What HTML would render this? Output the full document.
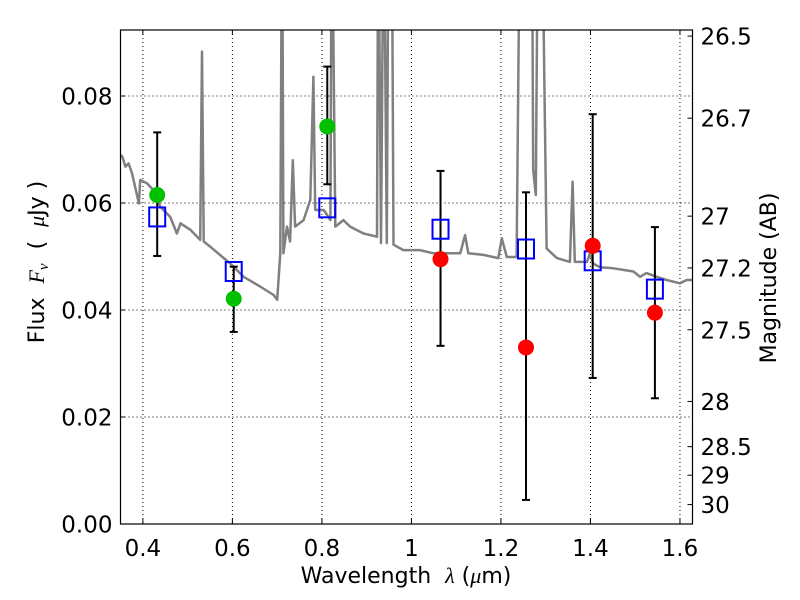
<!DOCTYPE html>
<html><head><meta charset="utf-8"><style>
body{margin:0;background:#fff;}
svg{display:block;font-family:"DejaVu Sans","Liberation Sans",sans-serif;}
text{white-space:pre;}
</style></head><body>
<svg id="chart" width="800" height="600" viewBox="0 0 800 600" xmlns="http://www.w3.org/2000/svg"></svg>
<script>
const xTicks=[0.4,0.6,0.8,1,1.2,1.4,1.6];
const yTicks=[0,0.02,0.04,0.06,0.08];
const yTickLabels=["0.00","0.02","0.04","0.06","0.08"];
const magTicks=[26.5,26.7,27,27.2,27.5,28,28.5,29,30];
const magLabels=["26.5","26.7","27","27.2","27.5","28","28.5","29","30"];
const specWl=[0.35,0.354,0.361,0.368,0.376,0.391,0.394,0.409,0.424,0.439,0.461,0.476,0.484,0.506,0.528,0.532,0.536,0.551,0.595,0.625,0.662,0.692,0.700,0.707,0.711,0.714,0.722,0.729,0.735,0.740,0.759,0.774,0.781,0.785,0.804,0.819,0.822,0.830,0.848,0.863,0.893,0.923,0.926,0.932,0.938,0.945,0.949,0.956,0.960,0.982,0.997,1.019,1.049,1.109,1.120,1.127,1.161,1.194,1.202,1.213,1.235,1.243,1.269,1.272,1.278,1.283,1.291,1.302,1.325,1.354,1.360,1.365,1.392,1.399,1.406,1.421,1.451,1.496,1.511,1.525,1.548,1.570,1.600,1.615,1.628];
const specFlux=[0.0690,0.0687,0.0668,0.0674,0.0655,0.0599,0.0643,0.0637,0.0624,0.0593,0.0574,0.0543,0.0562,0.0550,0.0531,0.0883,0.0528,0.0518,0.0487,0.0462,0.0444,0.0428,0.0419,0.0506,0.12,0.0506,0.0556,0.0528,0.0680,0.0556,0.0568,0.0606,0.0836,0.0587,0.0587,0.0568,0.12,0.0556,0.0568,0.0556,0.0543,0.0537,0.12,0.0525,0.12,0.0525,0.12,0.12,0.0522,0.0512,0.0512,0.0512,0.0506,0.0506,0.0540,0.0506,0.0503,0.0497,0.0534,0.0499,0.0499,0.12,0.12,0.0662,0.0615,0.12,0.12,0.0515,0.0497,0.0490,0.0640,0.0490,0.0490,0.0506,0.0487,0.0480,0.0478,0.0472,0.0462,0.0469,0.0462,0.0456,0.0450,0.0456,0.0456];
const optWl=[0.432,0.603,0.812];
const optFlux=[0.0615,0.0421,0.0743];
const optErrLo=[0.0501,0.0359,0.0635];
const optErrHi=[0.0732,0.0481,0.0855];
const irWl=[1.065,1.256,1.405,1.544];
const irFlux=[0.0495,0.033,0.052,0.0395];
const irErrLo=[0.0333,0.0045,0.0273,0.0235];
const irErrHi=[0.066,0.062,0.0766,0.0555];
const modelWl=[0.432,0.603,0.812,1.065,1.256,1.405,1.544];
const modelFlux=[0.0574,0.0472,0.0591,0.0551,0.0514,0.0492,0.0439];

const L=120.5,R=692.5,T=30,B=524;
const X0=0.35,X1=1.628,Y0=0,Y1=0.09234;
const sx=v=>L+(v-X0)/(X1-X0)*(R-L);
const sy=v=>B-(v-Y0)/(Y1-Y0)*(B-T);
const svg=document.getElementById('chart');
const NS='http://www.w3.org/2000/svg';
function mk(tag,attrs,parent){const e=document.createElementNS(NS,tag);for(const k in attrs)e.setAttribute(k,attrs[k]);(parent||svg).appendChild(e);return e;}

const defs=mk('defs',{});
const cp=mk('clipPath',{id:'clip'},defs);
mk('rect',{x:L,y:T,width:R-L,height:B-T},cp);

xTicks.forEach(t=>{const g=mk('line',{x1:sx(t),x2:sx(t),y1:T,y2:B,stroke:'#000','stroke-width':1,'stroke-dasharray':'1,3'});

});
yTicks.forEach(t=>{const g=mk('line',{x1:L,x2:R,y1:sy(t),y2:sy(t),stroke:'#000','stroke-width':1,'stroke-dasharray':'1,3'});

});

const pg=mk('g',{'clip-path':'url(#clip)'});
let d=specWl.map((w,i)=>(i?'L':'M')+sx(w).toFixed(1)+','+sy(specFlux[i]).toFixed(1)).join('');
const sp=mk('path',{d:d,fill:'none',stroke:'#808080','stroke-width':2.5,'stroke-linejoin':'round'},pg);



function errbar(w,lo,hi,name){
 const g=mk('g',{stroke:'#000','stroke-width':2},pg);
 
 
 mk('line',{x1:sx(w),x2:sx(w),y1:sy(lo),y2:sy(hi)},g);
 mk('line',{x1:sx(w)-4,x2:sx(w)+4,y1:sy(lo),y2:sy(lo)},g);
 mk('line',{x1:sx(w)-4,x2:sx(w)+4,y1:sy(hi),y2:sy(hi)},g);
}
optWl.forEach((w,i)=>errbar(w,optErrLo[i],optErrHi[i],'optical-errorbar'));
irWl.forEach((w,i)=>errbar(w,irErrLo[i],irErrHi[i],'ir-errorbar'));
modelWl.forEach((w,i)=>{const r=mk('rect',{x:sx(w)-8,y:sy(modelFlux[i])-9.5,width:16,height:19,fill:'none',stroke:'#0000ff','stroke-width':2},pg);

});
optWl.forEach((w,i)=>{const c=mk('circle',{cx:sx(w),cy:sy(optFlux[i]),r:8,fill:'#00c000'},pg);

});
irWl.forEach((w,i)=>{const c=mk('circle',{cx:sx(w),cy:sy(irFlux[i]),r:8,fill:'#ff0000'},pg);

});

const fr=mk('rect',{x:L,y:T,width:R-L,height:B-T,fill:'none',stroke:'#000','stroke-width':1.2});



xTicks.forEach(t=>{mk('line',{x1:sx(t),x2:sx(t),y1:B,y2:B-5,stroke:'#000'});mk('line',{x1:sx(t),x2:sx(t),y1:T,y2:T+5,stroke:'#000'});
const tx=mk('text',{x:sx(t),y:B+32,'font-size':23,'text-anchor':'middle'});tx.textContent=String(t);

});
yTicks.forEach((t,i)=>{mk('line',{x1:L,x2:L+5,y1:sy(t),y2:sy(t),stroke:'#000'});
const tx=mk('text',{x:L-8,y:sy(t)+8.5,'font-size':23,'text-anchor':'end'});tx.textContent=yTickLabels[i];

});
magTicks.forEach((m,i)=>{const f=Math.pow(10,(23.9-m)/2.5);const y=sy(f);
mk('line',{x1:R,x2:R-5,y1:y,y2:y,stroke:'#000'});
const tx=mk('text',{x:R+8,y:y+8.5,'font-size':23});tx.textContent=magLabels[i];

});

const xt=mk('text',{x:406,y:583,'font-size':22,'text-anchor':'middle'});
xt.innerHTML='Wavelength\u00a0\u00a0<tspan font-style="italic" font-family="Liberation Serif,serif">λ</tspan> (<tspan font-style="italic" font-family="Liberation Serif,serif">μ</tspan>m)';


const yt=mk('text',{transform:'translate(44,262) rotate(-90)','font-size':22,'text-anchor':'middle'});
yt.innerHTML='Flux\u00a0\u00a0<tspan font-style="italic" font-family="Liberation Serif,serif">F</tspan><tspan font-style="italic" font-family="Liberation Serif,serif" font-size="15" dy="4">ν</tspan><tspan dy="-4">\u00a0\u00a0(\u00a0\u00a0</tspan><tspan font-style="italic" font-family="Liberation Serif,serif">μ</tspan>Jy\u00a0)';


const rt=mk('text',{transform:'translate(776,278) rotate(-90)','font-size':22,'text-anchor':'middle'});
rt.textContent='Magnitude (AB)';


</script>
</body></html>
